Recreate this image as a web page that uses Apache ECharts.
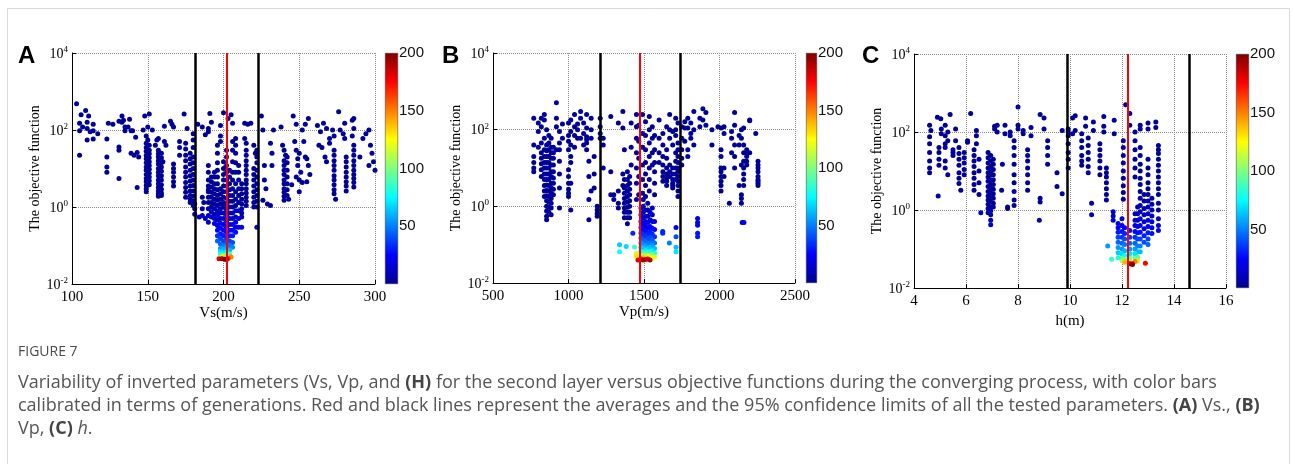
<!DOCTYPE html>
<html>
<head>
<meta charset="utf-8">
<script src="https://cdn.jsdelivr.net/npm/echarts@6/dist/echarts.min.js"></script>
<style>html,body{margin:0;padding:0;background:#fff}#chart{width:1293px;height:464px}</style>
</head>
<body>
<div id="chart"></div>
<script>
// 每列：[参数值, [目标函数值...], [代数...]]，没有代数的点属于早期代（深蓝）
var vsPts = [
  [103,[480]],[105,[150,95,22]],[106,[250]],[107,[120]],[109,[320]],[110,[160,110,55]],[111,[230]],[112,[90]],[114,[140,95,58]],[117,[80]],
  [123,[58,20,11,8]],[124,[150]],[127,[140]],[131,[170,36,30,5.5]],[133,[230,160]],[134,[180]],[135,[120,95]],
  [137,[120]],[138,[190]],[139,[95,25]],[140,[95]],[141,[22]],[142,[65]],[143,[26,3.2]],[144,[20]],
  [147,[100]],[148,[230]],[149,[70,45,35,28,22,18,14,11,9,7,5.5,4.5,3.6,3,2.5]],[150,[120,55]],[151,[260,40,30,24,19,15,12,9.5,7.5,6,4.8,3.8]],[153,[100]],
  [155,[40]],[156,[55]],[157,[60,30,24,20,16,13,10,8,6.5,5,4,3.2,2.6,2.2,1.9]],[159,[25,19,14,11,8.5,6.5,5,3.8,2.9,2.3,2]],
  [160,[15]],[161,[125,50]],[162,[40]],[165,[170]],[166,[140]],[167,[120,13,10,8,6,4.5,3.5]],
  [171,[50,35,22]],[174,[260]],[175,[45,32,22,16,11,8,6,4.3,3.2,2.4,1.8]],[176,[110]],[178,[25,18,13,9,6.5,4.7,3.5,2.6,2,1.6,1.3]],
  [180,[80,55,35,20,14,10,7,5,3.6,2.6,1.9,1.4,1.1]],[181,[1.2]],[183,[140]],[186,[120,1.8]],[187,[1.3]],[188,[75]],
  [190,[90,110,2.8,12,8,5,3.5,2.5,1.8,1.3]],[191,[270]],[192,[160,6,4.5,3.3,2.4,1.8,1.3,1]],
  [194,[8,6,4,3,2.2,1.6,1.2]],[196,[40,25,14,9,6,4,2.8,2,1.5,1.1]],[198,[130,70,50,3,2.2,1.6,1.2]],[200,[280,15,10,7,5,3.5,2.5,1.8,1.3,1]],
  [202,[30,20,12,8,5,3.5,2.5,1.7,1.2]],[203,[200]],[204,[9,6,4,2.8,2,1.4,1]],[205,[250]],[206,[150,50,30,15,8,5,3,2,1.4,1]],
  [208,[60,40,25,14,8,4,2.5,1.6,1.1]],[210,[12,8,5,3,2,1.3]],[212,[4,3,2.2,1.6,1.2]],
  [214,[150,60]],[215,[45,30,22,16,12,9,7,5,4,3,2.3,1.8,1.4,1.1]],[216,[140]],
  [218,[150]],[220,[40,10,7,5,3.5,2.5,1.8,1.3,1]],[221,[25]],[222,[30,20,14,9,6,4,2.8,2,1.4,1]],
  [225,[230]],[226,[100,1.5]],[227,[12,5]],[228,[3]],[229,[1.2]],[231,[45,1.1]],[232,[25,12]],[233,[100]],
  [238,[120]],[239,[40]],[240,[30,16,12,9,7,5,4,3,2.4,1.9,1.5]],[241,[22]],[242,[20,14,9,6,4,2.8,2]],[243,[1.6]],
  [245,[3.8]],[246,[230]],[247,[50]],[248,[140,30,6]],[249,[18,12]],[250,[25,5,2.5]],[251,[8]],
  [252,[100,4.3]],[253,[50]],[254,[140,20]],[255,[18,4.5]],[256,[200,12]],[257,[7]],
  [262,[130]],[263,[40]],[264,[90]],[265,[35]],[266,[150]],[267,[20]],[268,[110,15]],[270,[60,45]],
  [272,[100]],[273,[70,30,22,16,12,9,6.5,5,3.8,2.8,2.2]],[274,[1.6]],
  [276,[300]],[277,[100]],[279,[80]],[280,[150,60]],[281,[20,15,11,8,6,4.5,3.5,2.6]],
  [285,[180,70]],[286,[200,110,40,30,22,16,12,9,7,5.5,4.3,3.3]],
  [290,[20]],[292,[60]],[294,[80]],[296,[100,12]],[297,[40]],[298,[25]],[299,[15]],[300,[9]],
  // 后期代
  [181,[0.9,0.65],[8,10]],[184,[0.55],[10]],[186,[0.9,0.6],[8,10]],[188,[0.5],[12]],[190,[0.9,0.6,0.4],[8,11,15]],
  [192,[0.75,0.55],[10,13]],[194,[0.9,0.65,0.5,0.37],[8,11,14,18]],
  [196,[0.8,0.6,0.45,0.33,0.25,0.18,0.13],[10,13,16,20,26,34,44]],
  [198,[0.9,0.7,0.5,0.38,0.28,0.2,0.15,0.11,0.085,0.07,0.06],[8,10,14,18,22,28,36,45,56,68,80]],
  [200,[0.7,0.5,0.35,0.25,0.18,0.13,0.1,0.08,0.065,0.055],[10,14,18,24,30,38,48,60,72,100]],
  [202,[0.85,0.6,0.42,0.3,0.22,0.16,0.12,0.09,0.07,0.058],[8,12,15,20,26,33,42,55,70,95]],
  [204,[0.7,0.5,0.35,0.25,0.18,0.13,0.1,0.075,0.06],[10,14,18,24,30,38,48,62,85]],
  [206,[0.7,0.5,0.35,0.25,0.18,0.12,0.09],[10,14,18,24,30,40,52]],
  [208,[0.8,0.55,0.4,0.3,0.22],[10,13,17,22,27]],[210,[0.8,0.5,0.3],[10,14,20]],
  [212,[0.9,0.7,0.55,0.3],[6,8,10,18]],[222,[0.3],[18]],
  [197,[0.045],[180]],[199,[0.045,0.052],[195,130]],[201,[0.044],[200]],[202,[0.043],[190]],[203,[0.046,0.05],[170,140]],[205,[0.05],[150]]
];

var vpPts = [
  [770,[200,40,20,14,10,8]],[800,[150,90,35]],[820,[200,120,45,25,18,13,9,6]],
  [840,[250,180,60,30,20,14,10,7,5,3.5,2.5,1.8]],[855,[100,40,28,20,14,10,7,5,3.6,2.6,1.9,1.4,1,0.75,0.55,0.45]],
  [870,[70,45,30,20,14,10,7,5,3.5,2.5,1.8,1.3,0.95,0.7]],[885,[60,35,25,18,12,8,6,4,3,2.2,1.6,1.2,0.9,0.6]],
  [900,[35,25,18,12,8,5.5,4,2.8,2]],[920,[500,200,120,30]],[940,[90,45,30,15,7,3,0.9]],[960,[140,60]],
  [1000,[150,70,50,30,9,6,4,2.8,2.2,1.8]],[1015,[180,90,40,20,14,4,0.8]],[1040,[250,120,70,35]],[1060,[140,100,60]],
  [1080,[300,200,60]],[1100,[150,80,40]],[1120,[250,110,65,55,45,30]],[1135,[15,6,1.5,0.45]],[1150,[200,100,60,2.5]],
  [1170,[20,7,3]],[1190,[1,0.8,0.65,0.55]],[1210,[200,120,80,60]],[1230,[60,40,10]],[1280,[220,8,2]],[1300,[2,1.5]],
  [1330,[150,2.5,1.2,0.9]],[1360,[300,110,7,3.5]],[1370,[30,5,3,2.2,1.6,1.2,0.9,0.7,0.5]],
  [1390,[8,5,3.5,2.5,1.8,1.3,0.95,0.7,0.5,0.35]],[1405,[6,4,2.8,2,1.4,1,0.7,0.5]],[1415,[150,35,12]],
  [1450,[250,120,60,25,10,4,1.5]],[1465,[130,50,18,6,2]],[1490,[250,80,35,12,5,2.2]],[1510,[160,70,30,14,7,3.5,1.8]],
  [1535,[220,100,45,20,10,5,2.5]],[1555,[120,60,25,12]],[1570,[70,30,14,8,4,2]],[1600,[180,60,25,14]],
  [1625,[80,40,20,12,8,6,4.5]],[1650,[120,30,18,10,7,5.5,4.5,3.5]],[1670,[250,100,60,12,8,6]],
  [1690,[90,40,10,7,5,4,3.5,3]],[1710,[200,100,70,25,15,10,7,5]],[1725,[150,45,30,20,14,10,8,6,4.5,3.5,2.5,1.8]],
  [1750,[120,60,30,18,12]],[1770,[160,110,50]],[1790,[200,110,30,20]],[1810,[150,80,60]],[1830,[300,100,40]],
  [1870,[200,120]],[1890,[350,180]],[1910,[280,130]],[1950,[100,40]],[1990,[120]],
  [2010,[110,30,20,10,8,6,4.5,3.5,2.5]],[2030,[120,80,10,6]],[2065,[1.2]],[2080,[90,60,25]],[2100,[280,130,40,20,10]],
  [2130,[70,40,3.5]],[2145,[100,60,12,2,1.6,1.2]],[2160,[110,40,25,15,10,7,5,3.5]],[2180,[30,25,20,15,12]],
  [2200,[180,170,25]],[2240,[80]],[2255,[15,12,10,8,6,5,4.5,4,3.5]],
  // 后期代
  [1338,[0.1,0.065],[65,78]],[1382,[0.09],[68]],[1426,[0.2],[32]],[1437,[0.087],[85]],[1448,[0.059,0.05],[115,130]],
  [1460,[0.04],[180]],
  [1480,[0.9,0.6,0.4,0.28,0.2,0.15,0.11,0.085,0.065,0.052,0.042],[8,12,18,26,34,42,52,62,80,110,170]],
  [1495,[1.5,1,0.7,0.5,0.35,0.25,0.18,0.13,0.1,0.08,0.063,0.052,0.045,0.04],[4,6,10,14,20,26,34,44,54,64,82,110,140,195]],
  [1510,[0.8,0.55,0.4,0.3,0.22,0.16,0.12,0.09,0.07,0.058,0.048,0.041],[8,12,16,22,28,36,46,58,72,96,130,185]],
  [1525,[1.2,0.8,0.55,0.38,0.27,0.19,0.14,0.1,0.078,0.062,0.05,0.042],[6,9,13,18,25,32,40,50,64,84,120,175]],
  [1540,[0.7,0.45,0.3,0.21,0.15,0.11,0.085,0.066,0.053,0.04],[10,15,22,30,38,48,60,78,105,190]],
  [1555,[0.9,0.6,0.4,0.27,0.19,0.13,0.095,0.07,0.056,0.046],[8,12,17,25,33,43,55,70,95,125]],
  [1570,[0.4,0.25,0.16,0.11,0.08,0.06,0.048],[16,25,35,48,62,80,118]],
  [1624,[0.22,0.2],[30,32]],[1668,[0.11],[50]],[1712,[0.28,0.16,0.085,0.065],[25,40,62,70]],
  [1855,[0.48,0.38,0.32,0.2,0.16],[18,20,22,28,30]],[2150,[0.38],[20]],[2162,[0.38],[20]]
];

var hPts = [
  [4.6,[150,75,50,30,18,12,9]],[4.65,[110]],[4.93,[2.3]],[4.9,[240]],[5.03,[220]],[4.96,[40,30,20,14]],
  [5.05,[120,90]],[5.2,[150,80,50,40,18,12]],[5.3,[100,60,8]],[5.39,[280]],[5.5,[35,30,25]],[5.6,[120,60]],
  [5.73,[40,28,20,14,9,6.5,4.8]],[5.8,[3.2]],[5.93,[30,22,16,11,8]],[6.06,[60,55]],[6.18,[300]],
  [6.31,[35,25,18,13,9,6.5,4.5,3.2]],[6.4,[110,80,50]],[6.5,[20,10,5,2.5]],
  [6.85,[30,22,16,12,9,7,5.5,4,3,2.3,1.8,1.4,1.1]],[6.95,[25,18,13,10,8,6,4.5,3.5,2.7,2.1,1.6,1.2]],
  [7.05,[20,15,11,8,6,4.5,3.4,2.6,2,1.5,1.2]],[7.1,[140,120]],[7.2,[150,100]],[7.37,[3.2]],[7.4,[15]],
  [7.5,[90,150]],[7.6,[1.2,1.1]],[7.7,[100,80]],[7.85,[60,40,25,15,8,5,3,1.8,1.3]],[8.0,[440,150,120]],
  [8.2,[110,90]],[8.37,[35,25,18,12,8,5,3.2]],[8.5,[80,130]],[8.85,[280,2,1.6]],[9.0,[230,120]],
  [9.14,[60,40,25,15]],[9.5,[9,4]],[9.7,[110,2.6]],[9.93,[120,100,80,50,30,20,12]],[10.1,[230,90]],
  [10.2,[260,110]],[10.45,[90,60,40,25,18,14]],[10.6,[230,140]],[10.7,[70,45,30,20,13,9]],[10.83,[1.5]],
  [10.9,[180,110]],[11.15,[50,35,25,18,12,8]],[11.3,[250,140,100]],[11.4,[12,9,7,5,3.5,2.5,1.8]],
  [11.7,[200,90]],[12.05,[60,40,25,16,10,6.5,4.2,2.8,1.9]],[12.14,[500]],[12.3,[300,150]],
  [12.5,[100,60,35,20,12,7]],[12.7,[150,120,40,25,15,10,6.5]],[13.0,[170,120,20,12,8,5]],[13.3,[180,130]],
  [13.4,[45,35,28,20,14,10,7,5]],
  // 后期代
  [6.57,[0.85],[8]],[6.95,[0.95,0.75,0.55,0.42],[6,8,10,12]],[6.85,[0.85],[6]],[8.82,[0.55],[8]],[10.83,[0.75],[8]],
  [11.45,[0.12],[55]],[11.6,[0.055],[85]],[11.66,[0.9,0.7,0.55],[10,14,18]],
  [11.85,[0.45,0.35,0.27,0.2,0.15,0.11,0.08,0.06],[20,25,30,38,45,55,65,80]],
  [12.0,[0.6,0.4,0.28,0.2,0.14,0.1,0.075,0.058,0.05],[15,20,28,35,44,55,68,90,110]],
  [12.1,[0.35,0.25,0.18,0.13,0.09,0.068,0.055,0.046],[25,32,40,48,60,75,100,140]],
  [12.3,[0.3,0.2,0.14,0.1,0.075,0.058,0.048,0.042],[28,36,45,55,70,95,130,190]],
  [12.4,[0.042,0.04],[180,200]],
  [12.5,[0.8,0.55,0.4,0.28,0.2,0.14,0.1,0.075,0.058,0.048],[8,12,18,26,34,44,56,70,95,150]],
  [12.6,[1.2,0.8,0.55,0.38,0.26,0.18,0.12,0.085,0.062,0.05],[6,10,14,20,28,38,50,62,88,130]],
  [12.7,[4.5,3,2,1.3,0.9,0.6,0.4,0.27,0.18,0.12,0.085],[3,4,6,8,11,15,20,28,38,50,62]],
  [12.9,[0.043],[175]],
  [12.85,[2.5,1.7,1.1,0.75,0.5,0.33,0.22,0.15],[3,5,8,12,16,22,30,40]],
  [13.0,[3.5,2.5,1.7,1.2,0.8,0.55,0.38,0.26,0.18,0.13],[3,4,6,9,12,16,22,30,38,45]],
  [13.15,[2,1.4,1,0.7,0.5,0.35,0.25],[4,6,9,12,16,22,28]],
  [13.4,[3.5,2.5,1.5,1,0.6,0.4,0.3],[3,4,6,9,14,18,24]]
];

// 平均值与95%置信限 [下限, 平均, 上限]
var vsLines = [181.6, 202.3, 223];
var vpLines = [1208, 1472, 1739];
var hLines = [9.88, 12.22, 14.57];

var xNames = ['Vs(m/s)', 'Vp(m/s)', 'h(m)'];
var xRanges = [[100, 300, 50], [500, 2500, 500], [4, 16, 2]];
var panelTags = ['A', 'B', 'C'];
var genTicks = [0, 50, 100, 150, 200];

// jet 色表
var jet = ['#00008f','#0000ff','#007fff','#00ffff','#7fff7f','#ffff00','#ff7f00','#ff0000','#7f0000'];

var serif = '"Liberation Serif", "Times New Roman", serif';
var sans = '"Liberation Sans", Arial, sans-serif';

// 版面位置
var boxes = [
  {left: 72, top: 53, width: 303, height: 231, cb: 385, cbw: 13, tag: 18},
  {left: 493, top: 53, width: 302, height: 230, cb: 806, cbw: 11, tag: 442},
  {left: 914, top: 54, width: 312, height: 234, cb: 1236, cbw: 13, tag: 862}
];

function toPts(cols) {
  var out = [];
  cols.forEach(function (c) {
    c[1].forEach(function (y, i) {
      out.push([c[0], y, c[2] ? c[2][i] : 2]);
    });
  });
  // 后期代画在上层
  out.sort(function (a, b) { return a[2] - b[2]; });
  return out;
}

var allPts = [vsPts, vpPts, hPts];
var allLines = [vsLines, vpLines, hLines];

var grid = [], xAxis = [], yAxis = [], series = [], graphic = [], scatterIdx = [];

boxes.forEach(function (b, k) {
  var r = xRanges[k];
  grid.push({left: b.left, top: b.top, width: b.width, height: b.height});
  grid.push({left: b.cb, top: b.top, width: b.cbw, height: b.height});

  xAxis.push({
    type: 'value', gridIndex: 2 * k, min: r[0], max: r[1], interval: r[2],
    axisLine: {lineStyle: {color: '#000', width: 1}},
    axisTick: {inside: true, length: 4, lineStyle: {color: '#000'}},
    axisLabel: {fontFamily: serif, fontSize: 15, color: '#000', margin: 6,
      formatter: function (v) { return String(v); }},
    splitLine: {lineStyle: {type: 'dotted', color: '#8c8c8c', width: 1}},
    name: xNames[k], nameLocation: 'middle', nameGap: 22,
    nameTextStyle: {fontFamily: serif, fontSize: 15, color: '#000'}
  });
  xAxis.push({type: 'category', gridIndex: 2 * k + 1, data: ['g'], show: false});

  yAxis.push({
    type: 'log', logBase: 10, gridIndex: 2 * k, min: 0.01, max: 10000, interval: 2,
    axisLine: {lineStyle: {color: '#000', width: 1}},
    axisTick: {inside: true, length: 4, lineStyle: {color: '#000'}},
    axisLabel: {
      margin: 4,
      formatter: function (v) {
        var e = Math.round(Math.log(v) / Math.LN10);
        return '{b|10}{s|' + e + '}';
      },
      rich: {
        b: {fontFamily: serif, fontSize: 14, color: '#000', lineHeight: 16, verticalAlign: 'bottom'},
        s: {fontFamily: serif, fontSize: 9, color: '#000', lineHeight: 16, verticalAlign: 'top'}
      }
    },
    splitLine: {lineStyle: {type: 'dotted', color: '#8c8c8c', width: 1}},
    name: 'The objective function', nameLocation: 'middle', nameGap: 30,
    nameTextStyle: {fontFamily: serif, fontSize: 14, color: '#000'}
  });
  yAxis.push({
    type: 'value', gridIndex: 2 * k + 1, min: 0, max: 200, interval: 50, position: 'right',
    axisLine: {show: false}, axisTick: {show: false}, splitLine: {show: false},
    axisLabel: {
      margin: 1, fontFamily: sans, fontSize: 15, color: '#111',
      formatter: function (v) { return v === 0 ? '' : String(v); }
    }
  });

  var ln = allLines[k];
  scatterIdx.push(series.length);
  series.push({
    type: 'scatter', xAxisIndex: 2 * k, yAxisIndex: 2 * k,
    data: toPts(allPts[k]), symbolSize: 5, silent: true,
    itemStyle: {opacity: 1},
    markLine: {
      symbol: 'none', silent: true, animation: false, label: {show: false},
      data: [
        {xAxis: ln[0], lineStyle: {color: '#000', width: 2.5, type: 'solid'}},
        {xAxis: ln[2], lineStyle: {color: '#000', width: 2.5, type: 'solid'}},
        {xAxis: ln[1], lineStyle: {color: '#ff0000', width: 2, type: 'solid'}}
      ]
    }
  });
  series.push({
    type: 'bar', xAxisIndex: 2 * k + 1, yAxisIndex: 2 * k + 1,
    data: [genTicks[genTicks.length - 1]], barWidth: '100%', silent: true,
    itemStyle: {
      borderColor: '#333', borderWidth: 0.5,
      color: new echarts.graphic.LinearGradient(0, 1, 0, 0, jet.map(function (c, i) {
        return {offset: i / (jet.length - 1), color: c};
      }))
    }
  });

  graphic.push({
    type: 'text', left: b.tag, top: 44,
    style: {text: panelTags[k], font: 'bold 24px ' + sans, fill: '#000'}
  });
});

graphic.push({
  type: 'rect', shape: {x: 7.5, y: 8.5, width: 1282, height: 480},
  style: {fill: 'none', stroke: '#d9d9d9', lineWidth: 1}, z: -1
});

var capFont = '"Open Sans", "Noto Sans", sans-serif';
graphic.push({
  type: 'text', left: 18, top: 345,
  style: {text: 'FIGURE 7', fontFamily: capFont, fontSize: 14, fill: '#4a4a4a'}
});
var capLines = [
  'Variability of inverted parameters (Vs, Vp, and {b|(H)} for the second layer versus objective functions during the converging process, with color bars',
  'calibrated in terms of generations. Red and black lines represent the averages and the 95% confidence limits of all the tested parameters. {b|(A)} Vs., {b|(B)}',
  'Vp, {b|(C)} {i|h}.'
];
capLines.forEach(function (t, i) {
  graphic.push({
    type: 'text', left: 18, top: 374 + i * 23,
    style: {
      text: t, fontFamily: capFont, fontSize: 18, fill: '#555',
      rich: {
        b: {fontFamily: capFont, fontSize: 18, fontWeight: 'bold', fill: '#444'},
        i: {fontFamily: capFont, fontSize: 18, fontStyle: 'italic', fill: '#555'}
      }
    }
  });
});

var myChart = echarts.init(document.getElementById('chart'));
myChart.setOption({
  animation: false,
  backgroundColor: '#fff',
  grid: grid,
  xAxis: xAxis,
  yAxis: yAxis,
  visualMap: [{
    type: 'continuous', show: false, min: 0, max: 200, dimension: 2,
    seriesIndex: scatterIdx, inRange: {color: jet}
  }],
  series: series,
  graphic: graphic
});
</script>
</body>
</html>
